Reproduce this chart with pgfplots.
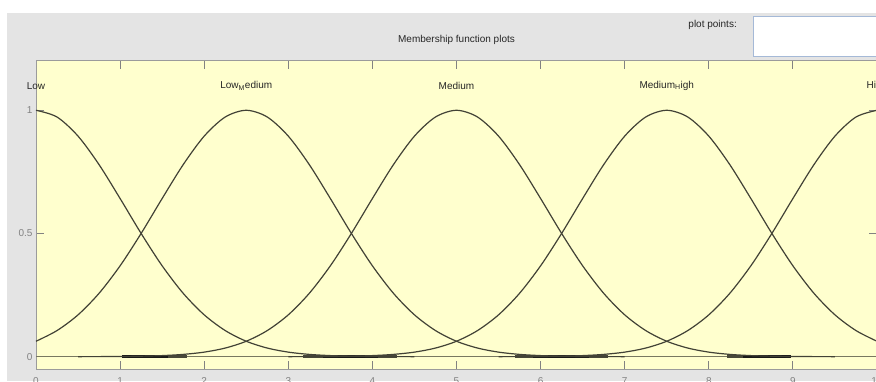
\documentclass[border=0pt]{standalone}
\usepackage{pgfplots}
\pgfplotsset{compat=1.18}
\usepackage{fontspec}
\setmainfont{Liberation Sans}

\definecolor{panel}{RGB}{228,228,228}
\definecolor{plotbg}{RGB}{255,255,206}
\definecolor{curve}{RGB}{66,66,54}
\definecolor{baseln}{RGB}{120,120,96}
\definecolor{framec}{RGB}{155,155,155}
\definecolor{tickc}{RGB}{130,130,130}
\definecolor{boxc}{RGB}{165,185,215}

\begin{document}
\begin{tikzpicture}[font=\fontsize{10}{12}\selectfont]
\path[use as bounding box] (0pt,0pt) rectangle (876pt,381pt);
\clip (0pt,0pt) rectangle (876pt,381pt);
\fill[white] (0pt,0pt) rectangle (876pt,381pt);
\fill[panel] (7pt,0pt) rectangle (876pt,368pt);
\draw[boxc, fill=white, line width=1pt] (753.5pt,324.5pt) rectangle (890pt,364.5pt);
\node[anchor=east, inner sep=0pt, text=black!85] at (737pt,356pt) {plot points:};
\begin{axis}[
    at={(36pt,12pt)}, anchor=south west,
    scale only axis, width=841pt, height=308pt,
    xmin=0, xmax=10, ymin=-0.05, ymax=1.2,
    axis background/.style={fill=plotbg},
    axis line style={framec, line width=1pt},
    xtick={0,1,...,10}, ytick={0,0.5,1},
    tick align=inside, major tick length=8pt,
    tick style={tickc, line width=0.9pt},
    ticklabel style={tickc},
    /pgf/number format/assume math mode=true,
    xticklabel style={yshift=-5pt},
    title={Membership function plots},
    title style={at={(0.5,1)}, anchor=center, yshift=15pt, text=black!85},
    clip=false,
]
% baseline
\addplot[baseln, line width=1.3pt] coordinates {(0,0) (10,0)};
\addplot[baseln!60!black, line width=2.6pt] coordinates {(1.57,0) (1.80,0)};
\addplot[baseln!60!black, line width=2.6pt] coordinates {(3.18,0) (4.29,0)};
\addplot[baseln!60!black, line width=2.6pt] coordinates {(5.70,0) (6.80,0)};
\addplot[baseln!60!black, line width=2.6pt] coordinates {(8.22,0) (8.41,0)};
\addplot[black!90, line width=2.6pt] coordinates {(1.02,0) (1.57,0)};
\addplot[black!90, line width=2.6pt] coordinates {(3.41,0) (4.07,0)};
\addplot[black!90, line width=2.6pt] coordinates {(5.91,0) (6.58,0)};
\addplot[black!90, line width=2.6pt] coordinates {(8.41,0) (8.98,0)};
% Low
\addplot[curve, line width=1.2pt, smooth] table {
0 1.0000
0.25 0.9727
0.5 0.8951
0.75 0.7793
1 0.6419
1.25 0.5002
1.5 0.3688
1.75 0.2573
2 0.1698
2.25 0.1060
2.5 0.0626
2.75 0.0350
3 0.0185
3.25 0.0093
3.5 0.0044
3.75 0.0020
4 0.0008
4.25 0.0003
4.5 0.0001
};
% Low_Medium
\addplot[curve, line width=1.2pt, smooth] table {
0 0.0626
0.25 0.1060
0.5 0.1698
0.75 0.2573
1 0.3688
1.25 0.5002
1.5 0.6419
1.75 0.7793
2 0.8951
2.25 0.9727
2.5 1.0000
2.75 0.9727
3 0.8951
3.25 0.7793
3.5 0.6419
3.75 0.5002
4 0.3688
4.25 0.2573
4.5 0.1698
4.75 0.1060
5 0.0626
5.25 0.0350
5.5 0.0185
5.75 0.0093
6 0.0044
6.25 0.0020
6.5 0.0008
6.75 0.0003
7 0.0001
};
% Medium
\addplot[curve, line width=1.2pt, smooth] table {
0.5 0.0001
0.75 0.0003
1 0.0008
1.25 0.0020
1.5 0.0044
1.75 0.0093
2 0.0185
2.25 0.0350
2.5 0.0626
2.75 0.1060
3 0.1698
3.25 0.2573
3.5 0.3688
3.75 0.5002
4 0.6419
4.25 0.7793
4.5 0.8951
4.75 0.9727
5 1.0000
5.25 0.9727
5.5 0.8951
5.75 0.7793
6 0.6419
6.25 0.5002
6.5 0.3688
6.75 0.2573
7 0.1698
7.25 0.1060
7.5 0.0626
7.75 0.0350
8 0.0185
8.25 0.0093
8.5 0.0044
8.75 0.0020
9 0.0008
9.25 0.0003
9.5 0.0001
};
% Medium_High
\addplot[curve, line width=1.2pt, smooth] table {
3 0.0001
3.25 0.0003
3.5 0.0008
3.75 0.0020
4 0.0044
4.25 0.0093
4.5 0.0185
4.75 0.0350
5 0.0626
5.25 0.1060
5.5 0.1698
5.75 0.2573
6 0.3688
6.25 0.5002
6.5 0.6419
6.75 0.7793
7 0.8951
7.25 0.9727
7.5 1.0000
7.75 0.9727
8 0.8951
8.25 0.7793
8.5 0.6419
8.75 0.5002
9 0.3688
9.25 0.2573
9.5 0.1698
9.75 0.1060
10 0.0626
};
% High
\addplot[curve, line width=1.2pt, smooth] table {
5.5 0.0001
5.75 0.0003
6 0.0008
6.25 0.0020
6.5 0.0044
6.75 0.0093
7 0.0185
7.25 0.0350
7.5 0.0626
7.75 0.1060
8 0.1698
8.25 0.2573
8.5 0.3688
8.75 0.5002
9 0.6419
9.25 0.7793
9.5 0.8951
9.75 0.9727
10 1.0000
};
\node[text=black!85] at (axis cs:0,1.1) {Low};
\node[text=black!85] at (axis cs:2.5,1.1) {Low\textsubscript{M}edium};
\node[text=black!85] at (axis cs:5,1.1) {Medium};
\node[text=black!85] at (axis cs:7.5,1.1) {Medium\textsubscript{H}igh};
\node[text=black!85] at (axis cs:10,1.1) {High};
\end{axis}
\end{tikzpicture}
\end{document}
